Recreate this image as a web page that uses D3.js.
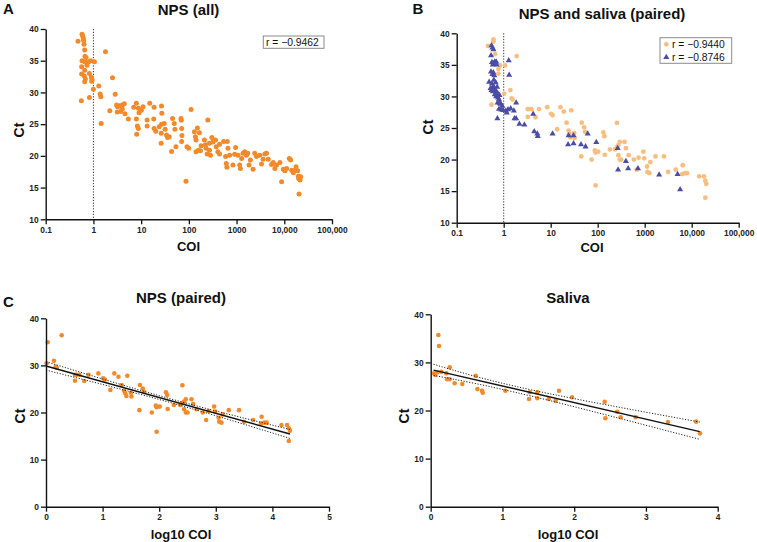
<!DOCTYPE html>
<html><head><meta charset="utf-8">
<script src="https://cdn.jsdelivr.net/npm/d3@7"></script>
<style>
body{margin:0;background:#fff;}
svg text{font-family:"Liberation Sans",Arial,Helvetica,sans-serif;}
</style></head>
<body><svg id="c" width="757" height="542"></svg>
<script>
// ---------- DATA ----------
// Panel A: NPS (all) — [log10 COI, Ct]
const npsAll = [
[-0.323,38.06],[-0.239,39.16],[-0.225,38.9],[-0.211,38.5],[-0.204,38.2],[-0.197,37.6],[-0.183,36.7],[-0.176,35.7],[-0.155,35.5],[-0.239,35.0],[-0.183,34.85],[-0.098,34.85],[-0.056,35.0],[0.021,34.85],[-0.246,34.06],[-0.183,33.5],[-0.134,34.3],[-0.246,32.9],[-0.19,32.6],[-0.169,32.1],[-0.183,31.7],[-0.084,33.0],[-0.042,32.4],[-0.028,32.0],[-0.035,31.75],[-0.253,28.7],[-0.084,29.2],[0,30.5],[0.112,31.0],[0.141,29.75],[0.155,29.3],[0.162,25.1],[0.253,36.4],[0.4,32.3],[0.344,27.1],[0.457,29.7],[0.485,28.0],[0.506,27.75],[0.548,27.9],[0.605,28.0],[0.499,26.9],[0.569,27.0],[0.605,27.4],[0.661,26.65],[0.647,28.2],[0.731,25.8],[0.844,27.65],[0.9,28.3],[0.942,27.5],[0.956,26.8],[1.005,27.2],[0.9,25.8],[0.921,24.7],[0.942,24.3],[0.907,23.4],[1.04,27.75],[1.125,25.65],[1.125,24.7],[1.181,28.3],[1.272,27.65],[1.265,25.8],[1.272,24.3],[1.308,23.9],[1.378,24.6],[1.42,23.55],[1.42,22.0],[1.427,25.0],[1.427,27.85],[1.434,26.7],[1.483,25.1],[1.504,24.2],[1.533,23.3],[1.554,22.9],[1.589,23.0],[1.659,25.9],[1.694,25.1],[1.708,24.2],[1.638,20.7],[1.729,21.45],[1.835,25.9],[1.842,25.6],[1.849,24.3],[1.856,23.2],[1.849,22.25],[1.94,16.0],[1.961,21.45],[1.996,21.2],[2.046,27.3],[2.116,23.8],[2.137,23.0],[2.151,22.5],[2.179,24.4],[2.221,23.65],[2.151,20.65],[2.2,20.9],[2.257,21.6],[2.243,20.8],[2.327,22.5],[2.348,21.75],[2.397,25.65],[2.362,21.2],[2.383,20.3],[2.432,22.0],[2.432,20.9],[2.453,20.1],[2.482,22.9],[2.503,22.2],[2.559,22.5],[2.573,21.45],[2.608,20.65],[2.643,21.85],[2.643,20.3],[2.728,22.25],[2.805,22.25],[2.819,21.2],[2.77,19.9],[2.784,18.8],[2.798,18.2],[2.854,20.1],[2.924,18.55],[2.96,20.25],[2.981,21.3],[3.03,20.1],[3.065,18.55],[3.079,18.0],[3.107,19.6],[3.135,20.4],[3.17,20.65],[3.206,20.1],[3.234,20.4],[3.262,18.55],[3.29,19.35],[3.346,17.9],[3.381,20.4],[3.417,19.9],[3.487,20.1],[3.522,18.7],[3.557,19.45],[3.592,20.3],[3.627,20.4],[3.663,19.45],[3.733,18.65],[3.768,18.95],[3.803,18.0],[3.838,18.55],[3.909,18.95],[3.944,15.9],[3.979,17.9],[4.014,17.65],[4.049,18.0],[4.105,19.6],[4.134,19.35],[4.155,17.75],[4.19,17.35],[4.204,17.65],[4.246,18.3],[4.281,17.65],[4.295,16.8],[4.309,14.0],[4.33,16.2],[4.302,16.45],[4.344,16.7]
];
// Panel B orange / Panel C: NPS (paired) — [log10 COI, Ct]
const npsPaired = [
[-0.218,39.05],[-0.218,38.7],[-0.333,38.0],[-0.184,36.7],[-0.078,34.9],[-0.112,34.35],[-0.112,33.6],[-0.26,28.7],
[0.03,34.9],[0.01,30.45],[0.277,36.4],[0.141,31.0],[0.17,29.7],[0.19,29.5],[0.512,28],[0.54,28],[0.59,28],[0.512,26.75],[0.677,26.7],[0.75,28.0],[0.925,28.3],[1.01,27.25],[1.04,27.0],[1.137,24.8],[1.207,28.3],[1.28,27.6],[1.337,25.85],[1.38,24.6],[1.4,24.1],[1.42,23.5],[1.437,27.8],[1.5,24.2],[1.51,23.4],[1.65,20.5],[1.66,25.85],[1.71,25.1],[1.73,24.4],[1.87,20.0],[1.94,21.45],[1.955,21.1],[2.01,21.25],[1.955,15.9],[2.12,24.3],[2.14,23.7],[2.15,20.75],[2.26,21.6],[2.37,21.6],[2.41,25.8],[2.41,21.95],[2.44,22.3],[2.47,22.8],[2.44,20.7],[2.47,20.0],[2.5,20.0],[2.57,22.8],[2.6,21.8],[2.66,20.7],[2.77,20.0],[2.83,18.4],[2.87,20.3],[2.97,21.25],[2.99,20.2],[3.05,18.9],[3.06,18.05],[3.1,17.85],[3.12,19.6],[3.23,20.5],[3.41,20.5],[3.5,18.05],[3.66,18.4],[3.81,19.1],[3.8,17.7],[3.86,17.85],[3.9,17.85],[4.16,17.35],[4.26,17.35],[4.29,16.65],[4.31,16.15],[4.29,13.95]
];
// Panel B triangles / Panel D: saliva (paired) — [log10 COI, Ct]
const salivaPaired = [
[-0.26,38.05],[-0.24,37.7],[-0.218,37.45],[-0.269,36.5],[-0.25,35.4],[-0.22,35.2],[-0.19,35.5],[-0.16,35.5],[-0.15,35.0],[-0.23,35.0],[-0.27,33.9],[-0.22,33.8],[-0.24,33.5],[-0.2,33.3],[-0.31,32.3],[-0.25,32.0],[-0.22,31.6],[-0.2,31.3],[-0.18,31.0],[-0.15,30.7],[-0.28,31.3],[-0.26,31.0],[-0.16,30.0],[-0.12,29.8],[-0.1,29.5],[-0.13,29.0],[-0.08,28.9],[-0.06,28.8],[-0.03,28.5],[-0.01,27.8],[-0.05,27.9],[-0.1,28.0],[-0.134,26.5],[-0.21,32.6],[-0.17,32.2],[-0.14,31.5],[-0.12,30.4],[-0.09,30.2],[-0.23,30.8],[-0.19,30.3],
[0.046,27.73],[0.064,27.4],[0.092,27.94],[0.107,35.7],[0.116,33.4],[0.148,28.07],[0.217,27.73],[0.23,26.5],[0.265,26.5],[0.265,29.0],[0.334,25.65],[0.44,25.5],[0.627,27.2],[0.65,24.45],[0.715,24.1],[0.725,23.7],[1.04,24.1],[1.37,22.4],[1.38,23.8],[1.486,23.8],[1.486,22.55],[1.645,22.4],[1.742,22.05],[1.788,24.1],[1.97,22.75],[2.425,21.8],[2.434,18.4],[2.6,19.75],[2.648,18.6],[2.857,18.6],[3.307,17.6],[3.7,17.68],[3.754,15.25]
];
const fitC = {x: [0, 4.31], y: [29.88, 15.44]};
const bandC = {x: [0, 2.2, 4.31], upper: [30.8, 22.9, 16.4], lower: [29.0, 22.1, 14.5]};
const fitD = {x: [0.04, 3.75], y: [28.4, 15.6]};
const bandD = {x: [0.04, 1.4, 3.75], upper: [29.6, 24.3, 17.6], lower: [27.3, 23.0, 14.0]};
// Ticks & labels
const logTicks = [0.1, 1, 10, 100, 1000, 10000, 100000];
const logTickLabels = ["0.1", "1", "10", "100", "1000", "10,000", "100,000"];
const ctTicksTop = [10, 15, 20, 25, 30, 35, 40];
const ctTicksBottom = [0, 10, 20, 30, 40];
const xTicksC = [0, 1, 2, 3, 4, 5];
const xTicksD = [0, 1, 2, 3, 4];
const rA = "r = \u22120.9462";
const rB = ["r = \u22120.9440", "r = \u22120.8746"];
const titles = ["NPS (all)", "NPS and saliva (paired)", "NPS (paired)", "Saliva"];

// ---------- DRAWING ----------
const svg = d3.select("#c");
svg.append("rect").attr("width", 757).attr("height", 542).attr("fill", "#fff");
const ORANGE = "#F28A2A", LIGHT = "#F8BE80", BLUE = "#4B4DA5";
const TICKFONT = "8.4px";

function axes(g, x, y, xTicks, xFmt, yTicks) {
  const ax = g.append("g").attr("transform", `translate(0,${y.range()[0]})`)
    .call(d3.axisBottom(x).tickValues(xTicks).tickFormat(xFmt).tickSize(5).tickSizeOuter(0).tickPadding(2.5));
  const ay = g.append("g").attr("transform", `translate(${x.range()[0]},0)`)
    .call(d3.axisLeft(y).tickValues(yTicks).tickSize(5).tickSizeOuter(0).tickPadding(2));
  [ax, ay].forEach(a => {
    a.selectAll("path.domain").attr("stroke", "#111").attr("stroke-width", 1.4);
    a.selectAll(".tick line").attr("stroke", "#111").attr("stroke-width", 1.3);
    a.selectAll("text").attr("font-weight", "bold").attr("font-size", TICKFONT).attr("fill", "#222")
      .attr("font-family", '"Liberation Sans",Arial,sans-serif');
  });
}
function label(t, x, y, size, opts = {}) {
  const e = svg.append("text").attr("x", x).attr("y", y).text(t)
    .attr("font-size", size).attr("font-weight", opts.normal ? "normal" : "bold")
    .attr("text-anchor", opts.anchor || "middle").attr("fill", "#111");
  if (opts.rotate) e.attr("transform", `rotate(-90,${x},${y})`).attr("dominant-baseline", "central");
  return e;
}

// ---- Panel A ----
{
  const x = d3.scaleLog().domain([0.1, 100000]).range([45.7, 332]);
  const y = d3.scaleLinear().domain([10, 40]).range([219.3, 29]);
  const g = svg.append("g");
  g.append("line").attr("x1", x(1)).attr("x2", x(1)).attr("y1", y(40)).attr("y2", y(10))
    .attr("stroke", "#333").attr("stroke-width", 1).attr("stroke-dasharray", "1.2,1.6");
  g.selectAll("circle").data(npsAll).join("circle")
    .attr("cx", d => x(Math.pow(10, d[0]))).attr("cy", d => y(d[1])).attr("r", 2.5).attr("fill", ORANGE);
  axes(g, x, y, logTicks, (d, i) => logTickLabels[i], ctTicksTop);
  g.append("rect").attr("x", 263.3).attr("y", 36).attr("width", 60.7).attr("height", 12.3)
    .attr("fill", "#fff").attr("stroke", "#8a8a8a").attr("stroke-width", 1);
  label(rA, 266, 45.8, "10.3px", {normal: true, anchor: "start"});
  label("A", 3, 13.5, "15px", {anchor: "start"});
  label(titles[0], 188.5, 14.5, "15px");
  label("COI", 188.5, 251, "13px");
  label("Ct", 18.5, 130, "14px", {rotate: true});
}
// ---- Panel B ----
{
  const x = d3.scaleLog().domain([0.1, 100000]).range([456.7, 738.7]);
  const y = d3.scaleLinear().domain([10, 40]).range([222.7, 33.3]);
  const g = svg.append("g");
  g.append("line").attr("x1", x(1)).attr("x2", x(1)).attr("y1", y(40)).attr("y2", y(10))
    .attr("stroke", "#333").attr("stroke-width", 1).attr("stroke-dasharray", "1.2,1.6");
  g.append("g").selectAll("circle").data(npsPaired).join("circle")
    .attr("cx", d => x(Math.pow(10, d[0]))).attr("cy", d => y(d[1])).attr("r", 2.4).attr("fill", LIGHT);
  const tri = d3.symbol().type(d3.symbolTriangle).size(16);
  g.append("g").selectAll("path").data(salivaPaired).join("path")
    .attr("d", tri).attr("transform", d => `translate(${x(Math.pow(10, d[0]))},${y(d[1])})`).attr("fill", BLUE);
  axes(g, x, y, logTicks, (d, i) => logTickLabels[i], ctTicksTop);
  g.append("rect").attr("x", 660).attr("y", 37.7).attr("width", 71.7).attr("height", 25.6)
    .attr("fill", "#fff").attr("stroke", "#8a8a8a").attr("stroke-width", 1);
  g.append("circle").attr("cx", 666.3).attr("cy", 44.3).attr("r", 2.4).attr("fill", LIGHT);
  g.append("path").attr("d", tri).attr("transform", "translate(666.3,57.2)").attr("fill", BLUE);
  label(rB[0], 672, 48.2, "10.3px", {normal: true, anchor: "start"});
  label(rB[1], 672, 61, "10.3px", {normal: true, anchor: "start"});
  label("B", 412.5, 13.5, "15px", {anchor: "start"});
  label(titles[1], 602, 19, "15px");
  label("COI", 592, 252, "13px");
  label("Ct", 427.5, 127, "14px", {rotate: true});
}
// ---- Panel C ----
function regPanel(data, fit, band, xr, xd, yr, xTicks, title, cx, ctx, letter) {
  const x = d3.scaleLinear().domain(xd).range(xr);
  const y = d3.scaleLinear().domain([0, 40]).range(yr);
  const g = svg.append("g");
  const pts = data.filter(d => d[0] >= 0);
  g.selectAll("circle").data(pts).join("circle")
    .attr("cx", d => x(d[0])).attr("cy", d => y(d[1])).attr("r", 2.3).attr("fill", ORANGE);
  const bl = d3.line().x(d => x(d[0])).y(d => y(d[1])).curve(d3.curveNatural);
  ["upper", "lower"].forEach(k => {
    g.append("path").attr("d", bl(band.x.map((v, i) => [v, band[k][i]])))
      .attr("fill", "none").attr("stroke", "#222").attr("stroke-width", 1).attr("stroke-dasharray", "1.2,1.6");
  });
  g.append("line").attr("x1", x(fit.x[0])).attr("x2", x(fit.x[1])).attr("y1", y(fit.y[0])).attr("y2", y(fit.y[1]))
    .attr("stroke", "#111").attr("stroke-width", 1.4);
  axes(g, x, y, xTicks, d3.format("d"), ctTicksBottom);
  if (letter) label(letter, 3, 307, "15px", {anchor: "start"});
  label(title, cx, 303, "15px");
  label("log10 COI", cx, 539, "13px");
  label("Ct", ctx, 416, "14px", {rotate: true});
}
regPanel(npsPaired, fitC, bandC, [46, 329], [0, 5], [506.7, 318.3], xTicksC, titles[2], 181, 19.5, "C");
regPanel(salivaPaired, fitD, bandD, [430.7, 717.7], [0, 4], [506.7, 314.3], xTicksD, titles[3], 568, 404, null);
</script></body></html>
